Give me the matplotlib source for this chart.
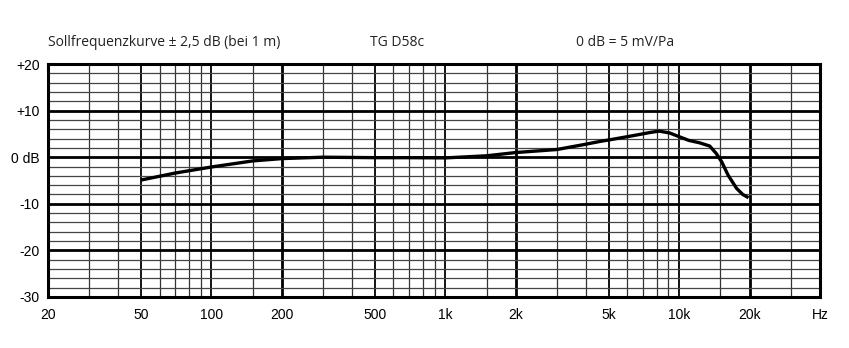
import matplotlib
matplotlib.use('Agg')
import matplotlib.pyplot as plt

# frequency response
freq_hz = [50, 70, 100, 150, 200, 300, 500, 700, 1000, 1500, 2000, 3000, 4000,
           4600, 5000, 6000, 6800, 7500, 8200, 9100, 10000, 11000, 12200, 13500,
           14400, 15200, 16200, 17600, 18700, 19800]
level_db = [-4.9, -3.4, -2.1, -0.8, -0.3, 0.0, -0.1, -0.1, -0.15, 0.3, 1.0, 1.65, 2.8,
            3.4, 3.7, 4.4, 4.9, 5.3, 5.6, 5.2, 4.4, 3.6, 3.1, 2.4,
            0.8, -1.0, -3.9, -6.7, -8.0, -8.7]

x_ticks = [20, 50, 100, 200, 500, 1000, 2000, 5000, 10000, 20000, 40000]
x_labels = ['20', '50', '100', '200', '500', '1k', '2k', '5k', '10k', '20k', 'Hz']
y_ticks = [20, 10, 0, -10, -20, -30]
y_labels = ['+20', '+10', '0 dB', '-10', '-20', '-30']

TXT = ['Open Sans', 'DejaVu Sans']
TICK = ['Liberation Sans', 'DejaVu Sans']

fig = plt.figure(figsize=(8.49, 3.48), dpi=100)
ax = fig.add_axes([48 / 849, 51 / 348, 772 / 849, 233 / 348])
ax.set_xscale('log')
ax.set_xlim(20, 40000)
ax.set_ylim(-30, 20)

# grid: vertical lines at 1, 1.5, 2, 3 ... 9 per decade
for dec in [10, 100, 1000, 10000]:
    for m in [1.5, 2, 3, 4, 5, 6, 7, 8, 9, 10]:
        f = dec * m
        if f <= 20 or f >= 40000:
            continue
        if f in (200, 2000, 20000):
            lw, c = 2.0, 'black'
        elif m in (5, 10):
            lw, c = 1.3, 'black'
        else:
            lw, c = 0.9, '#333333'
        ax.axvline(f, color=c, lw=lw, zorder=1)

for y in range(-28, 20, 2):
    if y % 10 == 0:
        ax.axhline(y, color='black', lw=2.0, zorder=1)
    else:
        ax.axhline(y, color='#444444', lw=0.9, zorder=1)

for s in ax.spines.values():
    s.set_linewidth(2.2)
    s.set_color('black')

ax.plot(freq_hz, level_db, color='black', lw=2.4, solid_capstyle='butt',
        solid_joinstyle='round', zorder=3)

ax.set_xticks(x_ticks)
ax.set_xticklabels(x_labels, family=TICK, fontsize=10)
ax.xaxis.set_minor_locator(matplotlib.ticker.NullLocator())
ax.set_yticks(y_ticks)
ax.set_yticklabels(y_labels, family=TICK, fontsize=10)
ax.tick_params(length=0, pad=6)
ax.tick_params(axis='x', pad=8)

fig.text(48 / 849, 1 - 42 / 348, 'Sollfrequenzkurve ± 2,5 dB (bei 1 m)', family=TXT,
         fontsize=10, va='center', ha='left', color='#222222')
fig.text(397 / 849, 1 - 42 / 348, 'TG D58c', family=TXT, fontsize=10,
         va='center', ha='center', color='#222222')
fig.text(576 / 849, 1 - 42 / 348, '0 dB = 5 mV/Pa', family=TXT, fontsize=10,
         va='center', ha='left', color='#222222')

fig.savefig('out.png', dpi=100, facecolor='white')
